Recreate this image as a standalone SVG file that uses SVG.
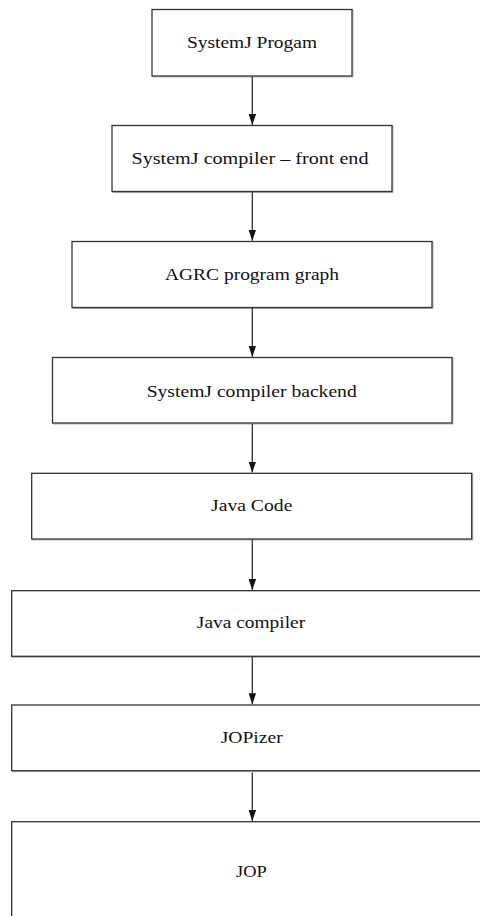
<svg xmlns="http://www.w3.org/2000/svg" width="480" height="916" viewBox="0 0 480 916">
<style>
  .box { fill: #ffffff; stroke: #333333; stroke-width: 1.3; }
  .shadow { fill: none; stroke: #b0b0b0; stroke-width: 1; }
  .label { font-family: 'Liberation Serif', 'Times New Roman', 'DejaVu Serif', serif; font-size: 16px; fill: #111111; text-anchor: middle; }
  .conn { stroke: #222222; stroke-width: 1.2; fill: none; marker-end: url(#arrow); }
</style>
<defs>
  <marker id="arrow" markerWidth="11" markerHeight="7.5" refX="11" refY="3.75" orient="auto" markerUnits="userSpaceOnUse" viewBox="0 0 11 7.5">
    <path d="M0,0 L11,3.75 L0,7.5 Z" fill="#111111"/>
  </marker>
</defs>
<rect x="0" y="0" width="480" height="916" fill="#ffffff"/>

<g id="node-systemj-program">
  <rect class="shadow" x="153" y="10.5" width="200" height="66.5"/>
  <rect class="box" x="152" y="9.5" width="200" height="66.5"/>
  <text class="label" font-family="Liberation Serif, serif" x="252" y="47.7" textLength="130" lengthAdjust="spacingAndGlyphs">SystemJ Progam</text>
</g>

<g id="node-frontend">
  <rect class="shadow" x="113" y="126.5" width="280" height="66"/>
  <rect class="box" x="112" y="125.5" width="280" height="66"/>
  <text class="label" font-family="Liberation Serif, serif" x="250" y="163.5" textLength="237" lengthAdjust="spacingAndGlyphs">SystemJ compiler – front end</text>
</g>

<g id="node-agrc">
  <rect class="shadow" x="73" y="242.5" width="360" height="66"/>
  <rect class="box" x="72" y="241.5" width="360" height="66"/>
  <text class="label" font-family="Liberation Serif, serif" x="252" y="280" textLength="174" lengthAdjust="spacingAndGlyphs">AGRC program graph</text>
</g>

<g id="node-backend">
  <rect class="shadow" x="53.5" y="358.5" width="399.5" height="65.5"/>
  <rect class="box" x="52.5" y="357.5" width="399.5" height="65.5"/>
  <text class="label" font-family="Liberation Serif, serif" x="251.7" y="396.5" textLength="210" lengthAdjust="spacingAndGlyphs">SystemJ compiler backend</text>
</g>

<g id="node-java-code">
  <rect class="shadow" x="32.7" y="474.3" width="440" height="65.7"/>
  <rect class="box" x="31.7" y="473.3" width="440" height="65.7"/>
  <text class="label" font-family="Liberation Serif, serif" x="251.7" y="511.3" textLength="81.3" lengthAdjust="spacingAndGlyphs">Java Code</text>
</g>

<g id="node-java-compiler">
  <rect class="shadow" x="12.7" y="591.7" width="480" height="65.6"/>
  <rect class="box" x="11.7" y="590.7" width="480" height="65.6"/>
  <text class="label" font-family="Liberation Serif, serif" x="251" y="628.3" textLength="108.3" lengthAdjust="spacingAndGlyphs">Java compiler</text>
</g>

<g id="node-jopizer">
  <rect class="shadow" x="12.7" y="706" width="480" height="65.7"/>
  <rect class="box" x="11.7" y="705" width="480" height="65.7"/>
  <text class="label" font-family="Liberation Serif, serif" x="251.7" y="743.3" textLength="62" lengthAdjust="spacingAndGlyphs">JOPizer</text>
</g>

<g id="node-jop">
  <rect class="shadow" x="12.7" y="822.7" width="480" height="100"/>
  <rect class="box" x="11.7" y="821.7" width="480" height="100"/>
  <text class="label" font-family="Liberation Serif, serif" x="251.4" y="876.7" textLength="30.7" lengthAdjust="spacingAndGlyphs">JOP</text>
</g>

<g id="connectors">
  <line class="conn" x1="252.3" y1="76.7" x2="252.3" y2="125"/>
  <line class="conn" x1="252.3" y1="192.2" x2="252.3" y2="240.8"/>
  <line class="conn" x1="252.3" y1="308" x2="252.3" y2="356.8"/>
  <line class="conn" x1="252.3" y1="423.7" x2="252.3" y2="472.6"/>
  <line class="conn" x1="252.3" y1="539.7" x2="252.3" y2="590"/>
  <line class="conn" x1="252.3" y1="657" x2="252.3" y2="704.3"/>
  <line class="conn" x1="252.3" y1="772.5" x2="252.3" y2="821"/>
</g>
</svg>
